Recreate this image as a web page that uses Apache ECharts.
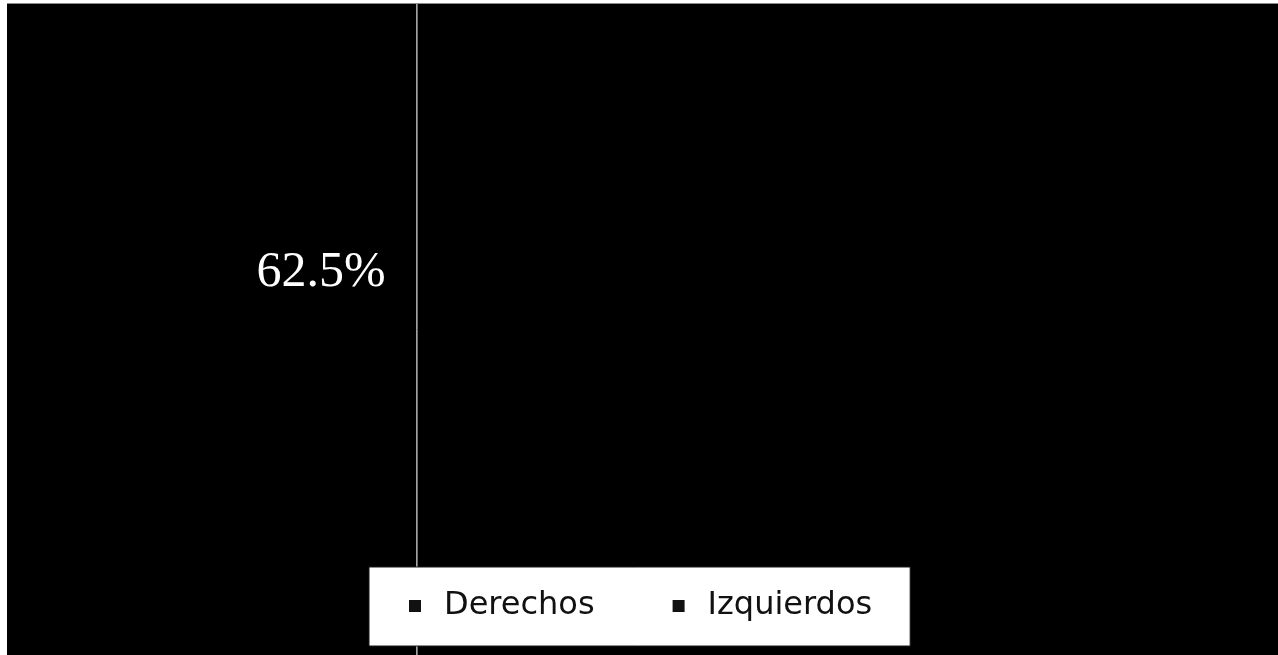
<!DOCTYPE html>
<html>
<head>
<meta charset="utf-8">
<script src="https://cdn.jsdelivr.net/npm/echarts@6/dist/echarts.min.js"></script>
<style>
  html, body { margin: 0; padding: 0; background: #ffffff; width: 1278px; height: 655px; overflow: hidden; }
  #chart { position: absolute; left: 7px; top: 3px; width: 1271px; height: 652px; background: #000; border-top: 1px solid #8a8a8a; box-sizing: border-box; }
</style>
</head>
<body>
<div id="chart"></div>
<script>
const categories = ['Derechos', 'Izquierdos'];
const values = [62.5, 37.5];
const shownLabels = ['Derechos'];

const chart = echarts.init(document.getElementById('chart'), null, { renderer: 'canvas' });

const data = categories.map((name, i) => ({
  name: name,
  value: values[i],
  label: { show: shownLabels.indexOf(name) !== -1 }
}));

chart.setOption({
  animation: false,
  backgroundColor: '#000',
  legend: {
    data: categories,
    left: 362,
    top: 563,
    orient: 'horizontal',
    selectedMode: false,
    backgroundColor: '#ffffff',
    borderColor: '#1a1a1a',
    borderWidth: 1,
    borderRadius: 0,
    padding: [23, 38, 24, 40],
    itemGap: 78,
    itemWidth: 12,
    itemHeight: 12,
    icon: 'rect',
    itemStyle: { borderWidth: 0, color: '#111' },
    textStyle: {
      fontFamily: 'DejaVu Sans',
      fontSize: 32,
      color: '#111',
      padding: [0, 0, 0, 18]
    }
  },
  series: [{
    type: 'pie',
    center: [410, 3000],
    radius: 3500,
    startAngle: 90,
    clockwise: false,
    data: data,
    color: ['#000000', '#000000'],
    itemStyle: { borderColor: '#d8d8d8', borderWidth: 1 },
    emphasis: { disabled: true },
    silent: true,
    labelLine: { show: false },
    label: {
      position: 'inside',
      formatter: '{d}%',
      color: '#ffffff',
      fontFamily: 'Liberation Serif',
      fontSize: 50
    },
    labelLayout: function () {
      return { x: 314, y: 269, align: 'center', verticalAlign: 'middle' };
    }
  }]
});
</script>
</body>
</html>
